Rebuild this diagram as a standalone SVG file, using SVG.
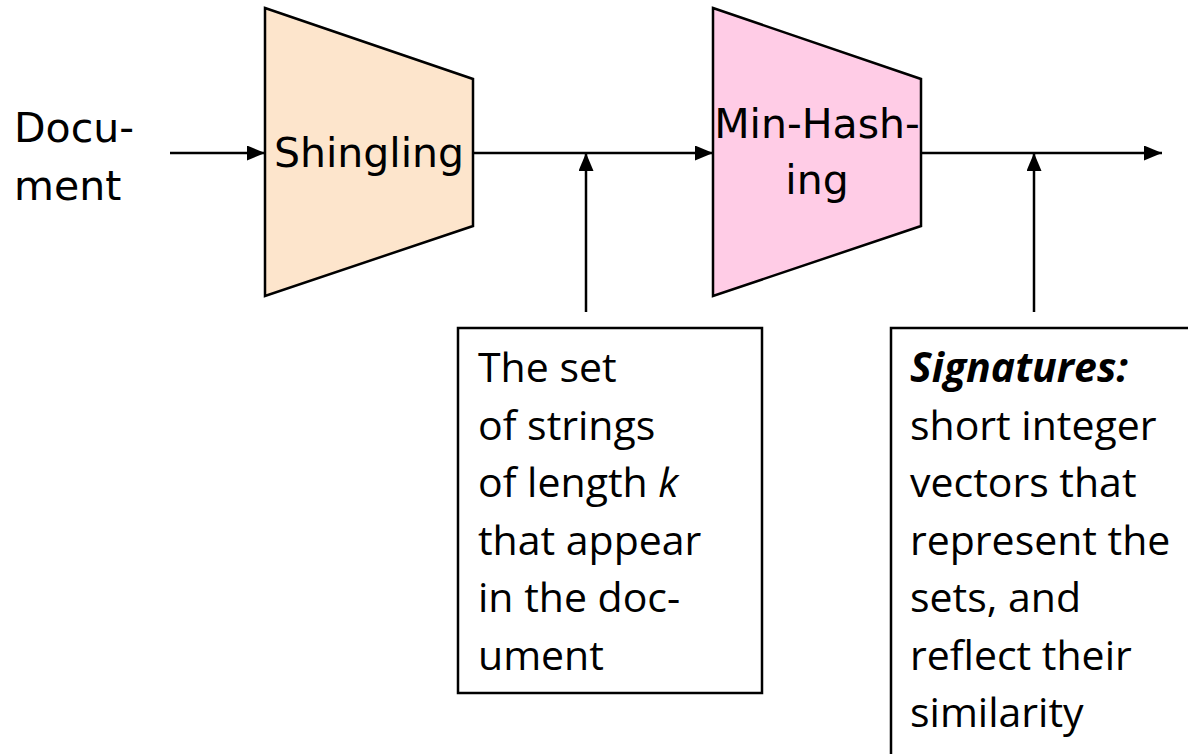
<svg xmlns="http://www.w3.org/2000/svg" width="1188" height="754" viewBox="0 0 1188 754">
<style>
.lbl{font-family:"DejaVu Sans",sans-serif;font-size:41px;fill:#000}
.box{font-family:"Open Sans","Liberation Sans",sans-serif;font-size:41px;fill:#000}
.ln{stroke:#000;stroke-width:2.5;fill:none}
.shape{stroke:#000;stroke-width:2.5}
</style>
<defs>
<marker id="ah" viewBox="0 0 18 15" refX="18" refY="7.5" markerWidth="18" markerHeight="15" markerUnits="userSpaceOnUse" orient="auto">
<path d="M0,0 L18,7.5 L0,15 Z" fill="#000"/>
</marker>
</defs>
<rect width="1188" height="754" fill="#fff"/>
<g id="document">
<text class="lbl" x="14" y="142">Docu-</text>
<text class="lbl" x="14" y="200">ment</text>
</g>
<g id="shingling">
<polygon class="shape" points="265,8 473,79 473,226 265,296" fill="#FDE5CC"/>
<text class="lbl" x="369" y="167" text-anchor="middle">Shingling</text>
</g>
<g id="minhashing">
<polygon class="shape" points="713,8 921,79 921,226 713,296" fill="#FFCCE6"/>
<text class="lbl" x="817" y="138" text-anchor="middle">Min-Hash-</text>
<text class="lbl" x="817" y="194" text-anchor="middle">ing</text>
</g>
<g id="shingles">
<rect class="ln" x="458" y="328" width="304" height="365"/>
<text class="box" x="478" y="382">The set</text>
<text class="box" x="478" y="440">of strings</text>
<text class="box" x="478" y="497">of length <tspan font-style="italic">k</tspan></text>
<text class="box" x="478" y="555">that appear</text>
<text class="box" x="478" y="612">in the doc-</text>
<text class="box" x="478" y="670">ument</text>
</g>
<g id="signatures">
<rect class="ln" x="891" y="328" width="310" height="440"/>
<text class="box" x="910" y="382" font-weight="bold" font-style="italic">Signatures:</text>
<text class="box" x="910" y="440">short integer</text>
<text class="box" x="910" y="497">vectors that</text>
<text class="box" x="910" y="555">represent the</text>
<text class="box" x="910" y="612">sets, and</text>
<text class="box" x="910" y="670">reflect their</text>
<text class="box" x="910" y="727">similarity</text>
</g>
<g id="connectors">
<line class="ln" x1="170" y1="153" x2="265" y2="153" marker-end="url(#ah)"/>
<line class="ln" x1="473" y1="153" x2="713" y2="153" marker-end="url(#ah)"/>
<line class="ln" x1="586" y1="312" x2="586" y2="153" marker-end="url(#ah)"/>
<line class="ln" x1="921" y1="153" x2="1162" y2="153" marker-end="url(#ah)"/>
<line class="ln" x1="1034" y1="312" x2="1034" y2="153" marker-end="url(#ah)"/>
</g>
</svg>
